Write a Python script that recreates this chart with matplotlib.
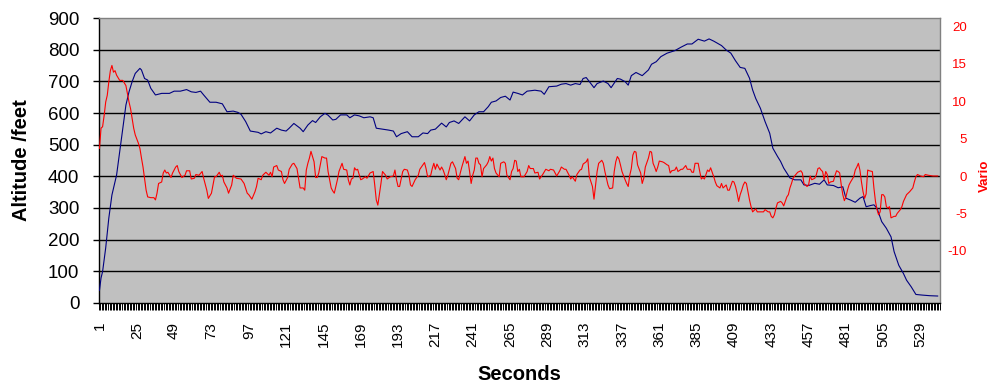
import matplotlib
matplotlib.use('Agg')
import matplotlib.pyplot as plt
import numpy as np

plt.rcParams['font.family'] = ['Liberation Sans', 'DejaVu Sans']

# ---------------- data ----------------
n_seconds = 541
tick_labels_x = list(range(1, 542, 24))

alt_sec = [1, 2, 3, 5, 7, 9, 12, 14, 16, 18, 20, 22, 24, 27, 28, 30, 32, 34, 37, 41,
           46, 49, 53, 57, 60, 63, 66, 68, 72, 76, 80, 83, 87, 90, 92, 95, 98, 103, 105, 108,
           111, 115, 118, 121, 123, 126, 130, 132, 135, 138, 140, 143, 146, 148, 151, 153, 156, 160, 162, 165,
           168, 171, 175, 177, 179, 183, 187, 190, 192, 195, 199, 202, 206, 209, 212, 214, 217, 221, 224, 226,
           229, 232, 236, 239, 242, 245, 248, 251, 253, 256, 259, 262, 265, 267, 270, 273, 276, 281, 285, 287,
           290, 295, 298, 301, 304, 307, 310, 312, 314, 316, 319, 321, 325, 328, 330, 334, 336, 339, 341, 343,
           346, 350, 354, 356, 359, 362, 366, 371, 375, 379, 382, 386, 390, 393, 396, 401, 404, 407, 410, 413,
           416, 419, 421, 423, 426, 429, 432, 434, 437, 439, 441, 445, 448, 452, 454, 457, 461, 464, 467, 469,
           473, 476, 479, 481, 484, 487, 490, 492, 494, 497, 499, 501, 504, 507, 510, 512, 515, 518, 520, 523,
           526, 530, 535, 540]
alt_ft = [40, 79, 99, 174, 268, 341, 404, 478, 553, 625, 667, 699, 725, 741, 736, 709, 704, 678, 657, 662,
          662, 669, 669, 674, 667, 665, 669, 657, 634, 634, 629, 604, 606, 602, 596, 573, 543, 539, 534, 541,
          537, 552, 546, 543, 552, 567, 552, 541, 562, 576, 570, 588, 599, 593, 578, 580, 594, 594, 585, 594,
          591, 585, 588, 585, 552, 549, 546, 543, 525, 535, 541, 525, 525, 537, 535, 546, 549, 568, 556, 570,
          575, 567, 588, 575, 594, 604, 604, 620, 634, 638, 649, 653, 641, 666, 662, 657, 669, 672, 669, 659,
          683, 685, 691, 693, 688, 693, 690, 709, 712, 699, 680, 693, 701, 693, 680, 709, 707, 699, 688, 718,
          728, 718, 736, 754, 762, 778, 789, 797, 808, 818, 818, 833, 827, 834, 827, 813, 799, 789, 765, 744,
          741, 710, 673, 646, 615, 573, 536, 489, 463, 447, 426, 395, 389, 389, 373, 371, 378, 375, 389, 373,
          371, 364, 367, 331, 325, 318, 331, 336, 304, 308, 310, 299, 257, 236, 209, 162, 119, 93, 72, 51,
          27, 25, 23, 22]

vario_sec = [1, 2, 3, 4, 5, 6, 7, 8, 9, 10, 11, 12, 14, 16, 18, 19, 20, 21, 22, 23,
             24, 26, 27, 28, 29, 30, 31, 32, 34, 36, 37, 38, 39, 41, 42, 43, 44, 45, 47, 48,
             50, 51, 52, 54, 56, 57, 59, 60, 62, 63, 65, 67, 68, 70, 71, 73, 74, 75, 76, 78,
             79, 80, 81, 83, 84, 86, 87, 89, 92, 94, 96, 97, 99, 101, 102, 103, 105, 106, 108, 110,
             111, 112, 113, 115, 116, 118, 119, 120, 122, 123, 125, 126, 128, 129, 130, 132, 133, 134, 135, 136,
             137, 138, 139, 140, 141, 142, 143, 144, 146, 147, 148, 150, 151, 152, 154, 155, 157, 158, 160, 161,
             162, 163, 164, 165, 166, 167, 169, 170, 172, 173, 175, 177, 178, 179, 180, 181, 182, 183, 185, 186,
             188, 190, 191, 192, 193, 194, 196, 197, 199, 200, 201, 202, 204, 206, 207, 209, 210, 211, 212, 214,
             215, 216, 217, 218, 220, 221, 222, 223, 224, 225, 227, 228, 230, 231, 232, 233, 234, 236, 237, 238,
             239, 240, 241, 242, 243, 244, 245, 246, 247, 248, 250, 251, 252, 253, 254, 255, 256, 258, 259, 261,
             262, 263, 265, 266, 267, 268, 269, 270, 271, 272, 274, 276, 277, 278, 280, 281, 283, 284, 285, 286,
             288, 290, 291, 293, 294, 295, 297, 298, 300, 301, 303, 304, 305, 307, 308, 310, 311, 312, 314, 315,
             316, 318, 319, 320, 321, 322, 324, 325, 326, 327, 328, 329, 331, 332, 333, 334, 335, 336, 337, 339,
             340, 341, 342, 343, 344, 345, 346, 347, 349, 350, 351, 352, 354, 355, 356, 357, 358, 359, 360, 361,
             363, 364, 366, 367, 368, 369, 371, 372, 373, 375, 376, 378, 379, 381, 382, 383, 384, 386, 387, 388,
             389, 390, 392, 393, 394, 396, 397, 398, 400, 401, 402, 404, 405, 406, 408, 409, 410, 411, 412, 413,
             414, 415, 416, 417, 418, 419, 420, 421, 423, 424, 426, 428, 429, 431, 432, 433, 434, 435, 436, 437,
             439, 440, 441, 442, 443, 444, 445, 446, 447, 448, 450, 452, 453, 454, 456, 457, 458, 459, 461, 462,
             463, 464, 465, 466, 467, 468, 469, 470, 471, 473, 474, 475, 476, 477, 478, 479, 480, 481, 482, 483,
             484, 486, 487, 488, 489, 490, 491, 492, 493, 494, 495, 496, 498, 499, 500, 501, 502, 503, 504, 505,
             506, 507, 508, 509, 510, 512, 513, 514, 516, 517, 518, 520, 521, 522, 524, 525, 526, 527, 529, 531,
             532, 534, 537, 540]
vario = [3.7, 6.4, 6.6, 8.1, 9.9, 10.8, 12.6, 14.1, 14.8, 13.9, 14.1, 13.5, 12.8, 12.8, 12.1, 11.0, 9.9, 9.0, 7.7, 6.4,
         5.5, 4.4, 3.7, 2.4, 1.2, -0.3, -1.9, -2.8, -2.9, -2.9, -3.2, -2.3, -1.0, -0.8, 0.4, 0.8, 0.4, 0.5, -0.2, 0.4,
         1.2, 1.4, 0.6, -0.2, 0.1, 0.7, 0.7, -0.4, -0.3, 0.2, 0.1, 0.6, -0.3, -1.9, -3.0, -2.3, -1.2, -0.1, -0.1, 0.5,
         0.0, 0.1, -0.8, -1.6, -2.3, -1.2, 0.1, -0.3, -0.4, -1.0, -2.3, -2.5, -3.1, -2.1, -1.4, -0.3, -0.5, 0.1, 0.5, 0.1,
         0.5, -0.1, 1.2, 1.4, 0.8, 0.6, -0.5, -1.0, -0.2, 0.9, 1.6, 1.7, 1.0, -0.3, -1.6, -1.6, -1.9, 0.8, 1.7, 2.4,
         3.3, 2.6, 1.9, -0.2, -0.2, 0.4, 1.5, 2.6, 2.4, 2.4, 0.6, -1.6, -2.0, -2.3, -0.5, 0.6, 1.7, 0.9, 0.8, -0.5,
         -1.2, -0.4, -0.3, 1.1, 0.8, 0.9, -0.5, -0.4, -0.1, -0.3, 0.4, 0.6, -1.2, -3.2, -3.9, -2.5, -1.0, 0.6, 0.1, -0.4,
         -0.1, 0.0, 0.8, -0.5, -1.4, -1.4, 0.6, 0.9, 0.8, 0.1, -1.2, -1.4, -0.5, 0.1, 0.9, 1.5, 1.8, 1.0, -0.1, 0.1,
         1.0, 1.7, 0.9, 1.6, 0.8, 1.2, 0.8, 0.2, -0.5, 0.1, 1.7, 1.9, 1.0, -0.3, -0.5, 0.4, 1.2, 2.6, 1.7, 2.0,
         0.6, -1.0, 0.1, 0.8, 2.4, 2.4, 1.7, 1.5, -0.1, 1.0, 1.5, 1.9, 2.6, 2.0, 2.4, 1.0, 0.4, -0.1, 1.7, 1.9,
         1.7, 0.1, -0.5, 0.6, 1.0, 2.1, 2.0, 0.6, 0.9, -0.1, -0.1, 0.6, 1.4, 1.0, 1.0, 0.4, 0.5, -0.4, -0.1, 0.2,
         0.9, 0.7, 0.9, 0.8, 0.4, 0.0, 0.7, 1.2, 0.9, 0.9, 0.1, -0.4, -0.1, -0.7, 0.2, 0.8, 0.9, 1.6, 1.9, 2.3,
         -0.1, -1.4, -3.1, -1.2, 0.6, 1.7, 2.1, 1.7, 0.6, -0.3, -1.2, -1.7, -1.6, 0.6, 1.9, 2.6, 2.3, 1.5, 0.6, -0.5,
         -1.0, -1.4, 0.1, 1.0, 2.8, 3.3, 3.2, 1.5, 0.4, -1.0, -0.3, 1.2, 2.4, 3.3, 3.2, 1.7, 1.2, 0.6, 1.2, 2.0,
         1.9, 1.8, 1.5, 1.4, 0.4, 0.7, 0.8, 1.2, 0.6, 0.9, 0.9, 1.4, 0.9, 0.9, 0.5, 0.5, 1.7, 1.7, 0.6, -0.4,
         -0.2, -0.4, 0.8, 0.6, 1.1, -0.1, -0.8, -1.3, -1.6, -1.0, -1.6, -1.2, -1.9, -1.9, -0.7, -0.8, -1.4, -2.3, -3.4, -2.5,
         -1.9, -1.2, -0.8, -1.0, -2.1, -3.2, -4.1, -4.8, -4.4, -4.8, -4.8, -4.8, -4.5, -4.8, -4.8, -5.4, -5.6, -5.2, -4.3, -3.6,
         -3.4, -3.6, -4.0, -3.4, -2.8, -2.5, -1.6, -1.0, -0.3, 0.0, 0.5, 0.7, 0.4, -1.0, -1.4, -1.2, 0.0, -0.5, -0.3, 0.2,
         1.0, 1.1, 0.8, 0.6, -0.5, 0.6, 0.2, -1.0, -0.8, -0.7, 0.1, 0.7, 0.6, 0.4, -1.2, -2.5, -3.3, -2.8, -1.9, -1.2,
         -0.8, -0.1, 0.8, 1.2, 1.7, 0.8, -0.8, -2.1, -3.0, -2.4, 0.8, 0.7, 0.6, -1.6, -3.4, -4.5, -5.2, -4.8, -2.5, -2.5,
         -2.8, -4.1, -4.3, -4.1, -5.6, -5.4, -5.4, -5.0, -4.5, -4.1, -3.4, -2.5, -2.3, -2.1, -1.6, -0.8, -0.1, 0.2, 0.0, -0.1,
         0.2, 0.1, 0.0, 0.0]

alt_ticks = list(range(0, 1000, 100))
vario_ticks = [-10, -5, 0, 5, 10, 15, 20]

# ---------------- figure ----------------
fig = plt.figure(figsize=(10, 3.9), dpi=100)
ax = fig.add_axes([0.0987, 0.2231, 0.8413, 0.7307])
ax.set_facecolor('#C0C0C0')
ax.set_xlim(0.5, n_seconds + 0.5)
ax.set_ylim(0, 900)
ax.set_yticks(alt_ticks)
ax.set_yticklabels([str(t) for t in alt_ticks])
for v in alt_ticks[1:-1]:
    ax.axhline(v, color='black', lw=1.0, zorder=1)

ax.plot(alt_sec, alt_ft, color='#000080', lw=0.8, zorder=3)

ax.set_xticks(tick_labels_x)
ax.set_xticklabels([str(t) for t in tick_labels_x], rotation=90, fontsize=11)
ax.set_xticks(np.arange(0.5, n_seconds + 1, 1), minor=True)
ax.tick_params(axis='x', which='major', length=0, pad=13.5)
ax.tick_params(axis='x', which='minor', length=5, width=0.7, color='black')
ax.tick_params(axis='y', which='major', length=4, width=1, color='black',
               labelsize=13.5, pad=10)

for s in ['left', 'bottom']:
    ax.spines[s].set_color('black')
    ax.spines[s].set_linewidth(1.0)
for s in ['top', 'right']:
    ax.spines[s].set_color('#808080')
    ax.spines[s].set_linewidth(1.0)

ax2 = ax.twinx()
ax2.plot(vario_sec, vario, color='#FF0000', lw=0.8, zorder=4)
ax2.set_ylim(-17.0, 21.15)
ax2.set_yticks(vario_ticks)
ax2.set_yticklabels([str(t) for t in vario_ticks])
ax2.tick_params(axis='y', length=0, labelcolor='#FF0000', labelsize=9.5, pad=19.4)
for lbl in ax2.get_yticklabels():
    lbl.set_horizontalalignment('right')
for s in ax2.spines.values():
    s.set_visible(False)

fig.text(0.022, 1 - 160 / 390, 'Altitude /feet', rotation=90, fontsize=14.5,
         fontweight='bold', ha='center', va='center')
fig.text(0.519, 1 - 374 / 390, 'Seconds', fontsize=14.5, fontweight='bold',
         ha='center', va='center')
fig.text(0.985, 1 - 176 / 390, 'Vario', rotation=90, fontsize=9.5,
         fontweight='bold', color='#FF0000', ha='center', va='center')

fig.savefig('out.png', dpi=100, facecolor='white')
